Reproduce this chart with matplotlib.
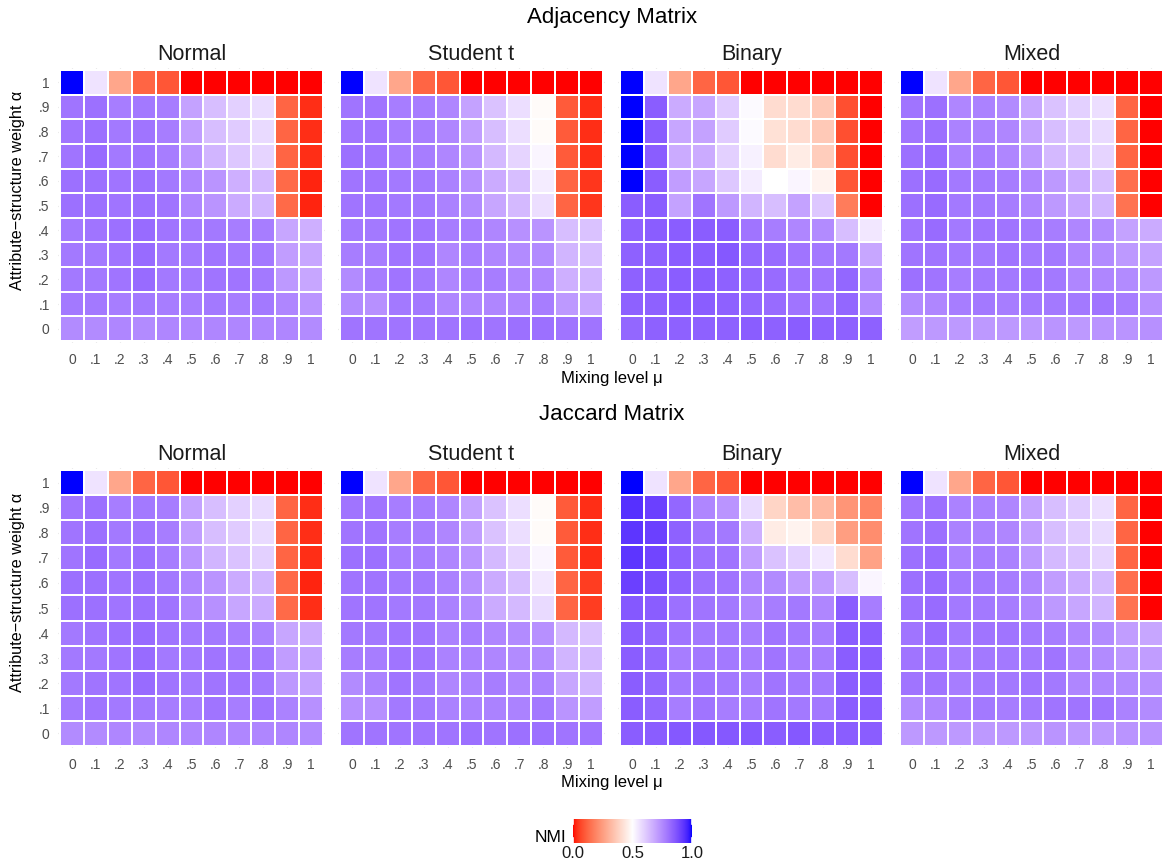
import numpy as np
import matplotlib
matplotlib.use("Agg")
import matplotlib.pyplot as plt
from matplotlib.colors import ListedColormap, Normalize

plt.rcParams['font.family'] = ['Liberation Sans', 'DejaVu Sans']

# ---------------- data (rows: alpha = 1 at top ... 0 at bottom; cols: mu = 0 ... 1)
mu_labels = ["0", ".1", ".2", ".3", ".4", ".5", ".6", ".7", ".8", ".9", "1"]
alpha_labels = ["0", ".1", ".2", ".3", ".4", ".5", ".6", ".7", ".8", ".9", "1"]
dist_names = ["Normal", "Student t", "Binary", "Mixed"]
matrix_names = ["Adjacency Matrix", "Jaccard Matrix"]

top_row = [1.0, 0.56, 0.27, 0.12, 0.09, 0.0, 0.0, 0.0, 0.0, 0.0, 0.0]

adj_normal = [
    top_row,
    [0.80, 0.81, 0.78, 0.79, 0.78, 0.70, 0.64, 0.60, 0.575, 0.12, 0.03],
    [0.80, 0.81, 0.79, 0.80, 0.78, 0.71, 0.64, 0.61, 0.58, 0.12, 0.03],
    [0.80, 0.82, 0.79, 0.80, 0.78, 0.73, 0.66, 0.62, 0.59, 0.12, 0.03],
    [0.81, 0.81, 0.80, 0.81, 0.79, 0.76, 0.73, 0.67, 0.65, 0.13, 0.02],
    [0.81, 0.81, 0.80, 0.81, 0.80, 0.76, 0.73, 0.68, 0.66, 0.13, 0.02],
    [0.79, 0.80, 0.81, 0.82, 0.80, 0.79, 0.79, 0.78, 0.78, 0.69, 0.67],
    [0.79, 0.79, 0.80, 0.82, 0.79, 0.79, 0.80, 0.79, 0.79, 0.71, 0.69],
    [0.79, 0.79, 0.80, 0.82, 0.79, 0.79, 0.80, 0.80, 0.79, 0.72, 0.69],
    [0.79, 0.79, 0.78, 0.79, 0.78, 0.78, 0.79, 0.78, 0.79, 0.76, 0.73],
    [0.75, 0.75, 0.76, 0.75, 0.76, 0.76, 0.76, 0.76, 0.76, 0.76, 0.75],
]
adj_student = [
    top_row,
    [0.80, 0.80, 0.78, 0.78, 0.76, 0.70, 0.63, 0.57, 0.49, 0.10, 0.03],
    [0.80, 0.80, 0.78, 0.78, 0.76, 0.71, 0.64, 0.57, 0.49, 0.10, 0.03],
    [0.81, 0.80, 0.78, 0.78, 0.76, 0.73, 0.65, 0.59, 0.52, 0.10, 0.03],
    [0.80, 0.80, 0.79, 0.79, 0.77, 0.74, 0.68, 0.64, 0.54, 0.12, 0.04],
    [0.80, 0.80, 0.79, 0.79, 0.77, 0.75, 0.69, 0.65, 0.57, 0.12, 0.04],
    [0.79, 0.79, 0.80, 0.80, 0.78, 0.78, 0.76, 0.74, 0.73, 0.64, 0.63],
    [0.78, 0.78, 0.80, 0.80, 0.76, 0.78, 0.76, 0.75, 0.75, 0.66, 0.64],
    [0.75, 0.78, 0.80, 0.79, 0.76, 0.78, 0.78, 0.76, 0.76, 0.67, 0.66],
    [0.75, 0.74, 0.79, 0.79, 0.76, 0.76, 0.76, 0.76, 0.78, 0.72, 0.69],
    [0.80, 0.80, 0.80, 0.80, 0.80, 0.81, 0.80, 0.81, 0.81, 0.80, 0.80],
]
adj_binary = [
    top_row,
    [1.00, 0.85, 0.68, 0.69, 0.61, 0.51, 0.41, 0.41, 0.36, 0.08, 0.00],
    [1.00, 0.85, 0.69, 0.70, 0.61, 0.51, 0.42, 0.41, 0.36, 0.08, 0.00],
    [1.00, 0.85, 0.68, 0.68, 0.60, 0.53, 0.41, 0.45, 0.37, 0.08, 0.00],
    [1.00, 0.85, 0.71, 0.69, 0.62, 0.54, 0.50, 0.52, 0.47, 0.09, 0.00],
    [0.85, 0.85, 0.70, 0.80, 0.72, 0.66, 0.64, 0.70, 0.62, 0.17, 0.00],
    [0.84, 0.85, 0.85, 0.85, 0.85, 0.80, 0.78, 0.76, 0.75, 0.64, 0.55],
    [0.84, 0.84, 0.85, 0.85, 0.86, 0.83, 0.82, 0.80, 0.79, 0.79, 0.69],
    [0.84, 0.84, 0.85, 0.85, 0.84, 0.83, 0.82, 0.80, 0.80, 0.83, 0.75],
    [0.84, 0.84, 0.85, 0.85, 0.84, 0.83, 0.82, 0.80, 0.80, 0.83, 0.75],
    [0.83, 0.84, 0.84, 0.84, 0.84, 0.85, 0.84, 0.85, 0.84, 0.84, 0.84],
]
adj_mixed = [
    top_row,
    [0.80, 0.81, 0.76, 0.77, 0.75, 0.69, 0.63, 0.60, 0.57, 0.12, 0.00],
    [0.80, 0.81, 0.77, 0.77, 0.76, 0.70, 0.64, 0.61, 0.58, 0.12, 0.00],
    [0.81, 0.82, 0.77, 0.78, 0.76, 0.72, 0.65, 0.63, 0.59, 0.12, 0.00],
    [0.81, 0.82, 0.79, 0.79, 0.78, 0.76, 0.72, 0.68, 0.64, 0.14, 0.00],
    [0.81, 0.82, 0.79, 0.79, 0.78, 0.76, 0.72, 0.69, 0.66, 0.15, 0.00],
    [0.80, 0.82, 0.79, 0.80, 0.80, 0.79, 0.78, 0.76, 0.75, 0.70, 0.68],
    [0.80, 0.80, 0.79, 0.79, 0.80, 0.79, 0.79, 0.76, 0.75, 0.72, 0.70],
    [0.81, 0.80, 0.78, 0.79, 0.79, 0.80, 0.79, 0.76, 0.76, 0.75, 0.72],
    [0.75, 0.76, 0.78, 0.79, 0.78, 0.79, 0.79, 0.79, 0.80, 0.78, 0.74],
    [0.71, 0.72, 0.72, 0.72, 0.72, 0.72, 0.73, 0.72, 0.73, 0.73, 0.74],
]
jac_normal = [
    top_row,
    [0.80, 0.81, 0.78, 0.79, 0.78, 0.70, 0.64, 0.60, 0.58, 0.12, 0.03],
    [0.80, 0.81, 0.79, 0.80, 0.78, 0.71, 0.64, 0.61, 0.58, 0.12, 0.03],
    [0.80, 0.82, 0.79, 0.81, 0.78, 0.73, 0.66, 0.63, 0.60, 0.12, 0.03],
    [0.81, 0.81, 0.80, 0.81, 0.79, 0.76, 0.73, 0.68, 0.66, 0.13, 0.02],
    [0.81, 0.81, 0.80, 0.81, 0.80, 0.76, 0.74, 0.69, 0.68, 0.13, 0.03],
    [0.79, 0.80, 0.81, 0.82, 0.80, 0.79, 0.79, 0.78, 0.77, 0.69, 0.68],
    [0.79, 0.79, 0.80, 0.82, 0.79, 0.79, 0.80, 0.79, 0.79, 0.71, 0.70],
    [0.79, 0.80, 0.80, 0.82, 0.80, 0.79, 0.80, 0.80, 0.79, 0.72, 0.70],
    [0.79, 0.80, 0.79, 0.79, 0.78, 0.78, 0.80, 0.78, 0.80, 0.77, 0.74],
    [0.75, 0.75, 0.76, 0.75, 0.76, 0.76, 0.76, 0.76, 0.76, 0.76, 0.75],
]
jac_student = [
    top_row,
    [0.80, 0.80, 0.78, 0.78, 0.76, 0.70, 0.63, 0.57, 0.49, 0.10, 0.03],
    [0.80, 0.80, 0.78, 0.78, 0.76, 0.71, 0.63, 0.57, 0.49, 0.10, 0.03],
    [0.81, 0.81, 0.78, 0.78, 0.76, 0.73, 0.65, 0.59, 0.52, 0.10, 0.03],
    [0.80, 0.80, 0.79, 0.79, 0.77, 0.74, 0.68, 0.64, 0.55, 0.12, 0.05],
    [0.80, 0.80, 0.79, 0.79, 0.77, 0.75, 0.68, 0.65, 0.58, 0.12, 0.05],
    [0.79, 0.79, 0.80, 0.80, 0.77, 0.78, 0.76, 0.75, 0.74, 0.65, 0.63],
    [0.78, 0.78, 0.80, 0.80, 0.77, 0.77, 0.76, 0.75, 0.75, 0.66, 0.65],
    [0.75, 0.77, 0.80, 0.79, 0.76, 0.77, 0.78, 0.76, 0.77, 0.69, 0.66],
    [0.74, 0.74, 0.79, 0.79, 0.77, 0.77, 0.77, 0.77, 0.79, 0.73, 0.71],
    [0.80, 0.80, 0.80, 0.80, 0.80, 0.81, 0.80, 0.81, 0.81, 0.80, 0.80],
]
jac_binary = [
    top_row,
    [0.94, 0.91, 0.83, 0.76, 0.73, 0.58, 0.39, 0.33, 0.32, 0.23, 0.19],
    [0.93, 0.91, 0.84, 0.80, 0.79, 0.67, 0.45, 0.47, 0.40, 0.25, 0.21],
    [0.93, 0.90, 0.84, 0.81, 0.80, 0.71, 0.63, 0.60, 0.55, 0.41, 0.26],
    [0.91, 0.88, 0.84, 0.81, 0.80, 0.76, 0.75, 0.71, 0.71, 0.64, 0.52],
    [0.86, 0.85, 0.81, 0.80, 0.79, 0.76, 0.78, 0.79, 0.76, 0.85, 0.78],
    [0.85, 0.83, 0.80, 0.79, 0.79, 0.78, 0.80, 0.79, 0.78, 0.85, 0.85],
    [0.85, 0.83, 0.78, 0.79, 0.79, 0.78, 0.80, 0.78, 0.78, 0.85, 0.85],
    [0.85, 0.83, 0.79, 0.80, 0.79, 0.78, 0.80, 0.79, 0.79, 0.85, 0.85],
    [0.85, 0.83, 0.78, 0.80, 0.78, 0.78, 0.80, 0.79, 0.79, 0.85, 0.85],
    [0.85, 0.85, 0.86, 0.86, 0.86, 0.86, 0.85, 0.86, 0.85, 0.85, 0.85],
]
jac_mixed = [
    top_row,
    [0.80, 0.81, 0.77, 0.77, 0.76, 0.70, 0.64, 0.61, 0.57, 0.12, 0.00],
    [0.80, 0.81, 0.77, 0.77, 0.76, 0.71, 0.64, 0.61, 0.58, 0.12, 0.00],
    [0.81, 0.82, 0.77, 0.78, 0.77, 0.72, 0.65, 0.63, 0.59, 0.12, 0.00],
    [0.81, 0.82, 0.79, 0.79, 0.78, 0.76, 0.71, 0.68, 0.65, 0.14, 0.00],
    [0.81, 0.82, 0.79, 0.79, 0.78, 0.76, 0.72, 0.69, 0.66, 0.15, 0.00],
    [0.80, 0.82, 0.79, 0.80, 0.80, 0.79, 0.78, 0.76, 0.75, 0.71, 0.69],
    [0.80, 0.80, 0.78, 0.79, 0.79, 0.79, 0.80, 0.76, 0.75, 0.72, 0.71],
    [0.80, 0.80, 0.78, 0.79, 0.79, 0.80, 0.79, 0.76, 0.76, 0.75, 0.74],
    [0.75, 0.76, 0.78, 0.79, 0.78, 0.79, 0.80, 0.80, 0.80, 0.77, 0.75],
    [0.72, 0.72, 0.72, 0.72, 0.72, 0.72, 0.73, 0.72, 0.72, 0.73, 0.73],
]

panels = [
    [adj_normal, adj_student, adj_binary, adj_mixed],
    [jac_normal, jac_student, jac_binary, jac_mixed],
]

# ---------------- diverging colormap interpolated in CIE Lab (red - white - blue)
def _srgb_to_lab(rgb):
    c = np.asarray(rgb, float)
    lin = np.where(c <= 0.04045, c / 12.92, ((c + 0.055) / 1.055) ** 2.4)
    M = np.array([[0.4124564, 0.3575761, 0.1804375],
                  [0.2126729, 0.7151522, 0.0721750],
                  [0.0193339, 0.1191920, 0.9503041]])
    xyz = M @ lin / np.array([0.95047, 1.0, 1.08883])
    f = np.where(xyz > 0.008856, np.cbrt(xyz), 7.787 * xyz + 16 / 116)
    return np.array([116 * f[1] - 16, 500 * (f[0] - f[1]), 200 * (f[1] - f[2])])


def _lab_to_srgb(lab):
    L, a, b = lab
    fy = (L + 16) / 116
    fx = fy + a / 500
    fz = fy - b / 200
    f = np.array([fx, fy, fz])
    xyz = np.where(f > 0.206893, f ** 3, (f - 16 / 116) / 7.787)
    xyz = xyz * np.array([0.95047, 1.0, 1.08883])
    Minv = np.array([[3.2404542, -1.5371385, -0.4985314],
                     [-0.9692660, 1.8760108, 0.0415560],
                     [0.0556434, -0.2040259, 1.0572252]])
    lin = np.clip(Minv @ xyz, 0, 1)
    s = np.where(lin <= 0.0031308, 12.92 * lin, 1.055 * lin ** (1 / 2.4) - 0.055)
    return np.clip(s, 0, 1)


lab_low = _srgb_to_lab([1, 0, 0])
lab_mid = _srgb_to_lab([1, 1, 1])
lab_high = _srgb_to_lab([0, 0, 1])
cols = []
for t in np.linspace(0, 1, 512):
    if t <= 0.5:
        s = t / 0.5
        lab = lab_low + (lab_mid - lab_low) * s
    else:
        s = (t - 0.5) / 0.5
        lab = lab_mid + (lab_high - lab_mid) * s
    cols.append(_lab_to_srgb(lab))
cmap = ListedColormap(cols)
norm = Normalize(0, 1)

# ---------------- figure
W, H = 1164, 867
fig = plt.figure(figsize=(W / 100, H / 100), dpi=100)
fig.patch.set_facecolor("white")

grey = "#4D4D4D"
lefts = [58, 338, 618, 898]
pw = 267
rows_geom = [(68, 343), (468, 748)]
title_y = [17, 415]
strip_top = [37, 437]

for r in range(2):
    top, bot = rows_geom[r]
    for c in range(4):
        ax = fig.add_axes([lefts[c] / W, 1 - bot / H, pw / W, (bot - top) / H])
        data = np.array(panels[r][c], float)[::-1]  # row 0 -> alpha = 0
        for k in range(11):
            ax.axvline(k + 0.5, color="#EBEBEB", lw=0.8, zorder=0)
            ax.axhline(k + 0.5, color="#EBEBEB", lw=0.8, zorder=0)
        ax.pcolormesh(np.arange(12), np.arange(12), data, cmap=cmap, norm=norm,
                      edgecolors="white", linewidth=1.2, zorder=1)
        ax.set_xlim(-0.08, 11.08)
        ax.set_ylim(-0.08, 11.08)
        ax.set_xticks(np.arange(11) + 0.5)
        ax.set_xticklabels(mu_labels)
        ax.set_yticks(np.arange(11) + 0.5)
        if c == 0:
            ax.set_yticklabels(alpha_labels)
        else:
            ax.set_yticklabels([])
        ax.tick_params(length=0, labelsize=10, colors=grey, pad=7)
        ax.tick_params(axis="y", pad=6)
        for sp in ax.spines.values():
            sp.set_visible(False)
        ax.set_title(dist_names[c], fontsize=15.5, color="#1A1A1A", pad=6)
    fig.text(612 / W, 1 - title_y[r] / H, matrix_names[r], ha="center", va="center",
             fontsize=16, color="#000000")
    fig.text(612 / W, 1 - (bot + 35) / H, "Mixing level \u03bc", ha="center", va="center",
             fontsize=12, color="#000000")
    fig.text(18 / W, 1 - ((strip_top[r] + bot) / 2) / H, "Attribute\u2212structure weight \u03b1",
             ha="center", va="center", rotation=90, fontsize=11.7, color="#000000")

# ---------------- colorbar legend
cax = fig.add_axes([573 / W, 1 - 843 / H, 119 / W, 24 / H])
grad = np.linspace(0, 1, 256)[None, :]
cax.imshow(grad, aspect="auto", cmap=cmap, norm=norm, extent=[0, 1, 0, 1])
cax.set_xlim(0, 1)
cax.set_ylim(0, 1)
for xv in [0.0, 1.0]:
    cax.plot([xv, xv], [0, 0.2], color="white", lw=1.2)
    cax.plot([xv, xv], [0.8, 1], color="white", lw=1.2)
cax.set_xticks([0.0, 0.5, 1.0])
cax.set_xticklabels(["0.0", "0.5", "1.0"])
cax.set_yticks([])
cax.tick_params(length=0, labelsize=12, colors="#1A1A1A", pad=2)
for sp in cax.spines.values():
    sp.set_visible(False)
fig.text(566 / W, 1 - 838 / H, "NMI", ha="right", va="center", fontsize=12.5, color="#000000")

fig.savefig("out.png", dpi=100, facecolor="white")
